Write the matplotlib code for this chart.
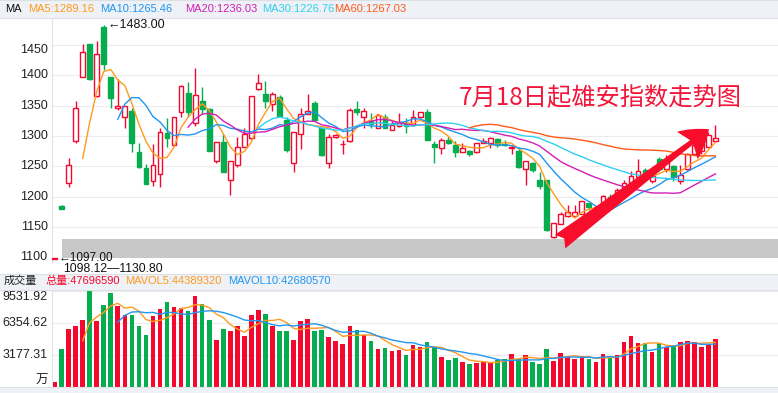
import numpy as np
import pandas as pd
import matplotlib
matplotlib.use("Agg")
import matplotlib.pyplot as plt
from matplotlib.patches import Rectangle, FancyArrowPatch

plt.rcParams['font.family'] = ['Liberation Sans', 'Noto Sans CJK SC', 'DejaVu Sans']

# -----------------------------
# Data
# -----------------------------
opens = [1097, 1184, 1223, 1291, 1398, 1451, 1366, 1480, 1397, 1346,
         1332, 1342, 1273, 1247, 1226, 1238, 1305, 1285, 1340, 1371,
         1321, 1358, 1344, 1258, 1290, 1227, 1252, 1281, 1296, 1377,
         1369, 1352, 1364, 1326, 1255, 1303, 1337, 1354, 1313, 1255,
         1298, 1286, 1291, 1344, 1331, 1324, 1314, 1332, 1310, 1316,
         1319, 1318, 1331, 1340, 1286, 1280, 1293, 1285, 1274, 1275,
         1273, 1289, 1289, 1295, 1287, 1280, 1276, 1246, 1256, 1227,
         1227, 1133, 1154, 1168, 1168, 1172, 1189, 1181, 1185, 1200,
         1194, 1211, 1222, 1232, 1244, 1225, 1262, 1245, 1251, 1225,
         1245, 1271, 1275, 1282, 1292]
highs = [1099, 1186, 1263, 1358, 1451, 1452, 1456, 1483, 1397, 1394,
         1350, 1346, 1288, 1254, 1287, 1314, 1329, 1332, 1384, 1389,
         1413, 1381, 1346, 1290, 1303, 1259, 1298, 1313, 1366, 1402,
         1391, 1373, 1368, 1332, 1307, 1346, 1370, 1358, 1313, 1303,
         1303, 1293, 1346, 1358, 1347, 1338, 1337, 1336, 1325, 1338,
         1329, 1343, 1340, 1344, 1292, 1296, 1299, 1291, 1288, 1277,
         1288, 1297, 1299, 1297, 1293, 1285, 1282, 1259, 1257, 1241,
         1228, 1157, 1174, 1186, 1186, 1193, 1190, 1185, 1203, 1204,
         1214, 1227, 1242, 1262, 1247, 1236, 1266, 1268, 1252, 1252,
         1272, 1290, 1296, 1307, 1318]
lows = [1097, 1179, 1215, 1289, 1397, 1393, 1365, 1409, 1347, 1343,
        1313, 1274, 1247, 1221, 1218, 1216, 1282, 1284, 1331, 1332,
        1317, 1337, 1275, 1256, 1240, 1202, 1249, 1281, 1295, 1376,
        1347, 1342, 1331, 1274, 1241, 1278, 1336, 1326, 1267, 1247,
        1297, 1270, 1290, 1335, 1313, 1313, 1314, 1314, 1310, 1315,
        1305, 1316, 1329, 1294, 1255, 1271, 1287, 1266, 1274, 1267,
        1272, 1288, 1280, 1281, 1283, 1271, 1247, 1219, 1241, 1212,
        1144, 1131, 1154, 1167, 1167, 1172, 1178, 1179, 1183, 1189,
        1193, 1208, 1221, 1230, 1232, 1223, 1242, 1240, 1225, 1221,
        1244, 1268, 1270, 1281, 1292]
closes = [1099, 1180, 1252, 1346, 1438, 1394, 1436, 1418, 1363, 1350,
          1349, 1288, 1249, 1221, 1252, 1306, 1296, 1332, 1383, 1339,
          1367, 1345, 1276, 1290, 1241, 1258, 1281, 1303, 1366, 1387,
          1358, 1370, 1333, 1277, 1306, 1336, 1341, 1326, 1268, 1298,
          1302, 1287, 1343, 1340, 1341, 1320, 1335, 1314, 1318, 1323,
          1317, 1332, 1340, 1294, 1282, 1294, 1289, 1274, 1280, 1270,
          1288, 1292, 1297, 1285, 1285, 1281, 1248, 1259, 1244, 1218,
          1145, 1157, 1171, 1175, 1175, 1193, 1182, 1183, 1201, 1192,
          1211, 1222, 1234, 1242, 1234, 1234, 1245, 1262, 1232, 1236,
          1271, 1285, 1292, 1302, 1297]
# volume in 万
volumes = [530, 3800, 5800, 6100, 6700, 9531.92, 6600, 8130, 9300, 8000,
           7130, 7130, 6100, 5130, 7030, 7700, 8430, 7970, 7870, 7530,
           9030, 8270, 6700, 4700, 5730, 5600, 6100, 5030, 7100, 7600,
           7200, 6100, 5600, 5530, 4700, 6600, 6730, 5600, 5700, 4930,
           4600, 4300, 6100, 5700, 5130, 4600, 3800, 3900, 3600, 3700,
           3200, 4200, 4000, 4500, 4000, 3000, 2700, 2900, 2500, 2300,
           2400, 2500, 2400, 2700, 2800, 3300, 2800, 3200, 2500, 2300,
           3800, 2600, 3400, 3000, 2800, 3100, 2800, 2500, 3300, 2900,
           3200, 4500, 5100, 4400, 4400, 3500, 4400, 4000, 4100, 4500,
           4600, 4500, 4000, 4300, 4769.66]

ma_periods = [5, 10, 20, 30, 60]
ma_colors = ['#ff9a1f', '#2196f3', '#d21fb4', '#2fd0f0', '#ff5a1a']
ma_labels = ['MA5:1289.16', 'MA10:1265.46', 'MA20:1236.03', 'MA30:1226.76', 'MA60:1267.03']
price_ticks = [1100, 1150, 1200, 1250, 1300, 1350, 1400, 1450]
vol_ticks = [3177.31, 6354.62, 9531.92]
band_low, band_high = 1098.12, 1130.80

RED = '#f5082e'
GREEN = '#05ad4e'
W, H = 778, 393


def fx(x):
    return x / W


def fy(y):
    return 1 - y / H


fig = plt.figure(figsize=(W / 100, H / 100), dpi=100)
fig.patch.set_facecolor('white')

# -----------------------------
# header strips
# -----------------------------
for top, bot in [(0, 18), (274, 290), (387, 393)]:
    fig.patches.append(Rectangle((0, fy(bot)), 1, (bot - top) / H, transform=fig.transFigure,
                                 facecolor='#eef1f5', edgecolor='none', zorder=0))
    fig.add_artist(plt.Line2D([0, 1], [fy(bot), fy(bot)], color='#dcdfe4', lw=0.8))
    fig.add_artist(plt.Line2D([0, 1], [fy(top), fy(top)], color='#dcdfe4', lw=0.8))

idx = np.arange(len(closes))
o = np.array(opens, float)
c = np.array(closes, float)
up = c >= o
x0, x1 = -0.36, 102.9

# -----------------------------
# Price panel
# -----------------------------
ax = fig.add_axes([fx(52), fy(263), fx(778 - 52), (263 - 18) / H])
ax.set_xlim(x0, x1)
ax.set_ylim(1090.4, 1494.7)
for t in price_ticks:
    if t > 1100:
        ax.axhline(t, color='#ececec', lw=0.8, zorder=0)
    ax.text(-0.006, t + (-8 if t == 1450 else 0), str(t), transform=ax.get_yaxis_transform(),
            ha='right', va='center', fontsize=9, color='#222222')

ax.vlines(idx, lows, highs, colors=[RED if u else GREEN for u in up], lw=1, zorder=2)
body_bottom = np.minimum(o, c)
body_h = np.maximum(np.abs(c - o), 0.8)
ax.bar(idx, body_h, bottom=body_bottom, width=0.68,
       facecolor=['white' if u else GREEN for u in up],
       edgecolor=[RED if u else GREEN for u in up], linewidth=1, zorder=3)

close_s = pd.Series(closes, dtype=float)
for n, col in zip(ma_periods, ma_colors):
    ax.plot(idx, close_s.rolling(n).mean(), color=col, lw=1, zorder=4)

ax.add_patch(Rectangle((1.1, band_low), x1, band_high - band_low,
                       facecolor='#c8c8c8', edgecolor='none', zorder=6))

ax.text(7.55, highs[7], '\u21901483.00', fontsize=9, ha='left', va='center', color='#111111')
ax.text(0.6, lows[0] + 2, '\u21901097.00', fontsize=8.5, ha='left', va='center', color='#111111', zorder=7)

ax.text(0.755, 0.672, '7月18日起雄安指数走势图', transform=ax.transAxes, fontsize=17.5,
        color='#f2153a', ha='center', va='center', family=['Noto Sans CJK SC', 'DejaVu Sans'])

ax.add_patch(FancyArrowPatch((71.6, 1123), (93.4, 1314),
                             arrowstyle='fancy,head_length=1.5,head_width=1.9,tail_width=0.95',
                             mutation_scale=13, color='#f80d2a', lw=0, zorder=8,
                             capstyle='round'))

for s in ax.spines.values():
    s.set_visible(False)
ax.spines['left'].set_visible(True)
ax.spines['left'].set_color('#e2e2e2')
ax.set_xticks([])
ax.set_yticks([])

fig.text(fx(63), fy(268.5), '1098.12\u20141130.80', fontsize=8.8, ha='left', va='center', color='#111111')

# header texts
fig.text(fx(5), fy(9), 'MA', fontsize=8, ha='left', va='center', color='#111111')
for xp, lab, col in zip([28, 100, 185, 262, 334], ma_labels, ma_colors):
    fig.text(fx(xp), fy(9), lab, fontsize=8, ha='left', va='center', color=col)

fig.text(fx(4), fy(281), '成交量', fontsize=8, ha='left', va='center', color='#222222')
fig.text(fx(45), fy(281), '总量:47696590', fontsize=8, ha='left', va='center', color=RED)
fig.text(fx(125), fy(281), 'MAVOL5:44389320', fontsize=8, ha='left', va='center', color='#ff9a1f')
fig.text(fx(228), fy(281), 'MAVOL10:42680570', fontsize=8, ha='left', va='center', color='#2196f3')

# -----------------------------
# Volume panel
# -----------------------------
axv = fig.add_axes([fx(52), fy(387), fx(778 - 52), (387 - 291) / H])
axv.set_xlim(x0, x1)
axv.set_ylim(0, 9531.92)
axv.bar(idx, volumes, width=0.66, color=[RED if u else GREEN for u in up], zorder=2)
vol_s = pd.Series(volumes, dtype=float)
axv.plot(idx, vol_s.rolling(5).mean(), color='#ff9a1f', lw=1, zorder=3)
axv.plot(idx, vol_s.rolling(10).mean(), color='#2196f3', lw=1, zorder=3)
for t in vol_ticks:
    axv.axhline(t, color='#ececec', lw=0.8, zorder=0)
    axv.text(-0.006, t - (550 if t == vol_ticks[-1] else 0), f'{t:.2f}', transform=axv.get_yaxis_transform(),
             ha='right', va='center', fontsize=9, color='#222222')
axv.text(-0.006, 0, '万', transform=axv.get_yaxis_transform(), ha='right', va='bottom',
         fontsize=9, color='#222222')
for s in axv.spines.values():
    s.set_visible(False)
axv.spines['left'].set_visible(True)
axv.spines['left'].set_color('#e2e2e2')
axv.set_xticks([])
axv.set_yticks([])

fig.savefig('out.png', dpi=100)
